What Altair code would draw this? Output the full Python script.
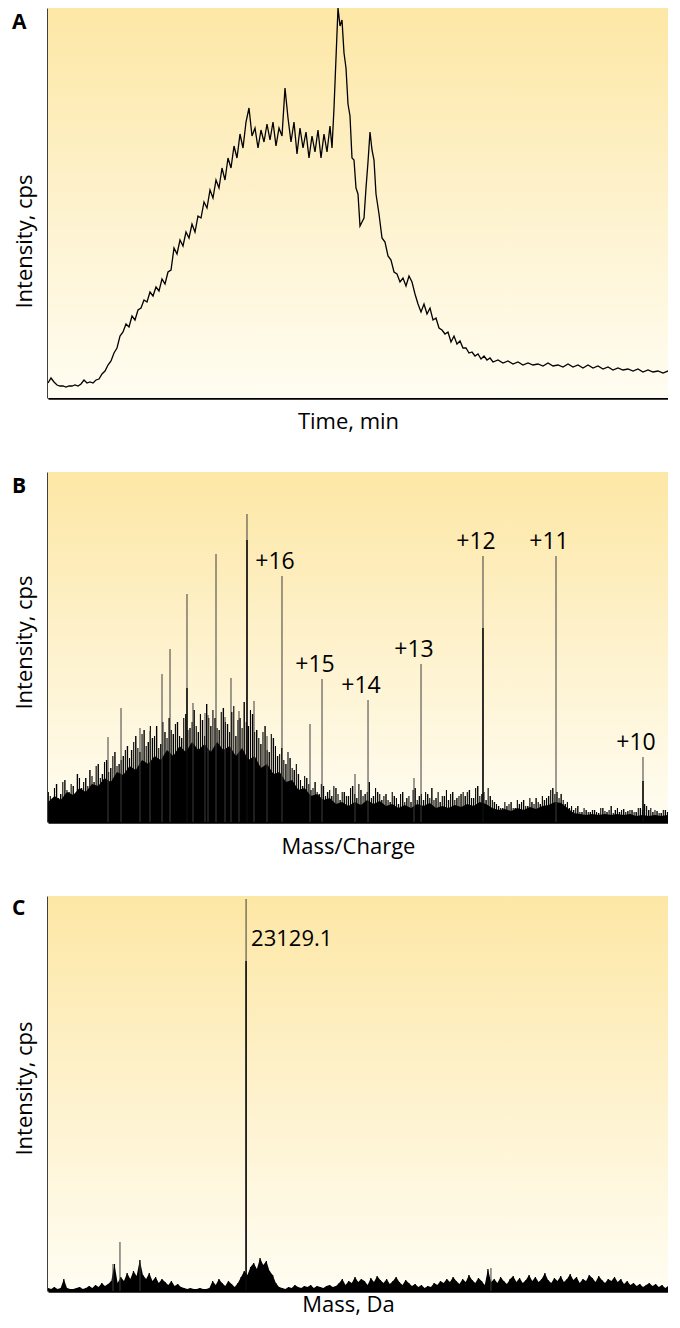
import altair as alt
import pandas as pd

# ---------------- Panel A : chromatogram ----------------
a_scan = (list(range(0, 103, 3)) + list(range(105, 283, 3)) + list(range(284, 329, 2))
          + list(range(331, 446, 3)) + list(range(450, 631, 5)) + [633])
a_intensity = [
    15, 20, 16, 13, 12, 12, 11, 12, 12, 13, 12, 14, 18, 15, 16, 15, 18, 19, 24, 27,
    33, 37, 45, 50, 62, 66, 74, 71, 82, 78, 88, 90, 98, 96, 106,
    102, 111, 107, 119, 114, 126, 128, 150, 144, 158,
    152, 166, 160, 174, 166, 182, 180, 196, 190, 208,
    200, 218, 210, 230, 218, 240, 230, 252, 240, 264,
    250, 276, 290, 262, 270, 250, 268, 256, 274, 258,
    276, 252, 270, 262, 310, 280, 256, 276, 244, 270,
    250, 266, 240, 262, 246, 268, 240, 264, 246, 272,
    250, 290, 340, 390, 372, 378, 345, 330, 294, 282,
    240, 238, 210, 204, 172, 176, 180, 210, 236, 266,
    248, 238, 204,
    184, 160, 156, 142, 138, 126, 124, 116, 120, 112,
    122, 116, 104, 94, 86, 94, 84, 90, 78, 80,
    70, 68, 64, 66, 56, 62, 54, 57, 50, 50,
    45, 46, 42, 44, 39, 42, 38, 40, 36,
    38, 35, 37, 34, 36, 33, 35, 33, 34, 32,
    35, 32, 33, 31, 34, 31, 33, 30, 33, 30,
    32, 29, 31, 28, 30, 28, 29, 27, 29, 26,
    28, 26, 27, 25, 27, 26, 28,
    26,
]

# ---------------- Panel B : m/z spectrum ----------------
b_body_start, b_body_step = 886, 15
b_body = [
    20, 26, 22, 30, 27, 34, 30, 38, 36, 44, 40, 50, 47, 56, 52, 62, 58, 66, 62, 72,
    66, 76, 70, 80, 72, 78, 70, 80, 72, 76, 66, 74, 62, 66, 54, 58, 48, 50, 40, 42,
    32, 34, 26, 28, 22, 24, 18, 20, 16, 20, 17, 22, 18, 21, 16, 18, 14, 17, 14, 18,
    16, 19, 14, 16, 14, 17, 15, 18, 16, 20, 18, 14, 12, 13, 11, 14, 12, 15, 13, 16,
    17, 20, 19, 14, 9, 8, 7, 8, 7, 8, 7, 8, 7, 8, 6, 7, 6, 7, 6, 7, 6,
]
b_needle1_start, b_needle_step = 886, 10
b_needle1 = [
    30, 22, 38, 28, 42, 30, 36, 48, 34, 44,
    52, 40, 58, 48, 62, 54, 70, 58, 66, 76,
    72, 86, 70, 92, 80, 84, 96, 78, 90, 104,
    88, 100, 84, 108, 94, 112, 90, 102, 118, 96,
    104, 92, 114, 98, 110, 86, 104, 120, 96, 108,
    92, 78, 96, 70, 84, 66, 74, 58, 64, 52,
    48, 36, 44, 32, 40, 28, 36, 30, 26, 34,
    22, 30, 26, 36, 24, 32, 28, 40, 26, 30,
    22, 28, 20, 26, 18, 30, 24, 20, 34, 26,
    22, 28, 34, 24, 20, 26, 22, 30, 24, 28,
    26, 32, 24, 36, 28, 22, 26, 20, 16, 14,
    16, 20, 14, 18, 22, 16, 20, 24, 18, 22,
    26, 34, 30, 28, 18, 14, 12, 16, 10, 12,
    10, 12, 9, 14, 10, 16, 12, 10, 13, 11,
    12, 10, 14, 18, 12, 10, 11, 9, 12, 10, 11, 9,
]
b_needle2_start = 891
b_needle2 = [
    26, 34, 24, 40, 32, 38, 28, 44, 40, 36,
    46, 56, 44, 60, 50, 66, 56, 62, 72, 64,
    80, 74, 88, 76, 96, 86, 74, 100, 84, 92,
    98, 86, 104, 92, 100, 96, 108, 86, 104, 112,
    94, 110, 100, 90, 116, 102, 94, 100, 112, 90,
    84, 90, 72, 88, 76, 68, 62, 70, 54, 58,
    42, 46, 38, 34, 30, 38, 26, 32, 36, 28,
    30, 26, 34, 28, 38, 26, 30, 24, 34, 28,
    26, 22, 30, 24, 28, 20, 26, 32, 22, 28,
    30, 24, 22, 30, 26, 32, 28, 22, 26, 30,
    30, 24, 34, 26, 30, 34, 22, 18, 14, 20,
    18, 14, 22, 20, 16, 24, 18, 20, 26, 24,
    32, 28, 24, 22, 20, 16, 14, 10, 14, 10,
    12, 10, 14, 11, 12, 9, 14, 12, 10, 12,
    10, 14, 12, 16, 14, 12, 9, 12, 10, 9, 11,
]
b_peak_mz = [1029.4, 1060.6, 1106.1, 1130.1, 1158.9, 1178.1, 1218.8, 1233.2, 1262.0,
             1269.2, 1288.4, 1310.0, 1324.3, 1343.5, 1362.7, 1379.5, 1410.7, 1446.6,
             1513.8, 1542.6, 1621.7, 1652.9, 1763.2, 1780.0, 1928.6, 2103.7, 2312.3]
b_peak_int = [85, 114, 94, 91, 148, 173, 228, 119, 109,
              107, 268, 105, 144, 111, 308, 121, 86, 246,
              98, 143, 48, 122, 44, 158, 266, 266, 65]
b_sub_mz = [1218.8, 1362.7, 1928.6, 2312.3]
b_sub_int = [134, 282, 194, 41]
b_label_mz = [1446.6, 1542.6, 1652.9, 1780.0, 1928.6, 2103.7, 2312.3]
b_label_int = [246, 143, 122, 158, 266, 266, 65]
b_labels = ["+16", "+15", "+14", "+13", "+12", "+11", "+10"]

# ---------------- Panel C : deconvoluted mass ----------------
c_mass_start, c_mass_step = 20000, 50
c_noise = [
    3, 2, 4, 2, 3, 12, 3, 2, 2, 3, 4, 2, 3, 5, 3, 6, 4, 8, 5, 7,
    10, 27, 8, 14, 10, 18, 12, 20, 15, 31, 16, 12, 18, 10, 14, 8, 12, 9, 6, 10,
    5, 7, 4, 3, 2, 3, 2, 2, 3, 2, 2, 3, 10, 6, 12, 8, 5, 10, 7, 4,
    8, 14, 20, 16, 24, 28, 22, 33, 26, 30, 20, 16, 8, 4, 3, 2, 4, 3, 6, 4,
    3, 5, 4, 6, 3, 5, 4, 3, 5, 6, 4, 5, 8, 12, 6, 10, 8, 14, 9, 12,
    10, 6, 13, 9, 15, 11, 8, 12, 7, 10, 14, 9, 6, 11, 8, 5, 7, 4, 6, 3,
    5, 4, 8, 6, 10, 8, 12, 9, 14, 10, 7, 12, 9, 16, 11, 8, 13, 10, 6, 22,
    9, 12, 8, 14, 10, 7, 12, 15, 9, 13, 8, 11, 16, 10, 14, 9, 12, 18, 11, 8,
    13, 10, 15, 9, 12, 17, 11, 14, 8, 12, 10, 16, 13, 9, 15, 11, 8, 12, 10, 14,
    9, 12, 7, 10, 6, 8, 5, 7, 4, 6, 8, 5, 7, 4, 6, 3, 5, 4, 6, 10, 5,
]
c_peak_mass = [21027, 21137, 21453, 23129.1, 26998]
c_peak_int = [27, 49, 31, 392, 23]
c_sub_mass = [23129.1]
c_sub_int = [330]
c_label = "23129.1"

# ---------------- layout / style ----------------
W = 620
HA, HB, HC = 390, 350, 395
FONT = "Open Sans"

grad = alt.LinearGradient(
    gradient="linear",
    stops=[alt.GradientStop(color="#FDE7A5", offset=0),
           alt.GradientStop(color="#FEF2CD", offset=0.5),
           alt.GradientStop(color="#FFFDF2", offset=1)],
    x1=0, x2=0, y1=0, y2=1,
)


def background(h):
    return alt.Chart(pd.DataFrame({"d": [0]})).mark_rect(color=grad).encode(
        x=alt.value(0), x2=alt.value(W), y=alt.value(0), y2=alt.value(h))


def letter(t, ybase):
    return alt.Chart(pd.DataFrame({"d": [0]})).mark_text(
        text=t, font=FONT, fontSize=21, fontWeight="bold", align="left",
        baseline="alphabetic", color="black").encode(x=alt.value(-36), y=alt.value(ybase))


def xenc(field, dom, title, ty):
    return alt.X(f"{field}:Q", scale=alt.Scale(domain=dom, nice=False, zero=False),
                 axis=alt.Axis(title=title, titleX=300, titleY=ty, titleAlign="center",
                               titleBaseline="alphabetic"))


def yenc(h, ty):
    return alt.Y("intensity:Q", scale=alt.Scale(domain=[0, h], nice=False),
                 axis=alt.Axis(title="Intensity, cps", titleX=-24, titleY=ty, titleAngle=270,
                               titleAlign="center", titleBaseline="middle"))


def spikes(df, X, Y, color, sw):
    return alt.Chart(df).mark_rule(color=color, strokeWidth=sw, clip=True).encode(
        x=X, y=Y, y2=alt.datum(0))


# Panel A
dfa = pd.DataFrame({"scan": a_scan, "intensity": a_intensity})
XA = xenc("scan", [0, W], "Time, min", 30)
YA = yenc(HA, 233)
panel_a = alt.layer(
    background(HA),
    alt.Chart(dfa).mark_line(color="black", strokeWidth=1.3, clip=True).encode(x=XA, y=YA),
    letter("A", 21),
).properties(width=W, height=HA)

# Panel B
MZ_PER_PX = 2.398
B_DOM = [885.5, 885.5 + W * MZ_PER_PX]
XB = xenc("mz", B_DOM, "Mass/Charge", 31)
YB = yenc(HB, 170)
dfb_body = pd.DataFrame({"mz": [b_body_start + b_body_step * i for i in range(len(b_body))],
                         "intensity": b_body})
dfb_n1 = pd.DataFrame({"mz": [b_needle1_start + b_needle_step * i for i in range(len(b_needle1))],
                       "intensity": b_needle1})
dfb_n2 = pd.DataFrame({"mz": [b_needle2_start + b_needle_step * i for i in range(len(b_needle2))],
                       "intensity": b_needle2})
dfb_peaks = pd.DataFrame({"mz": b_peak_mz, "intensity": b_peak_int})
dfb_sub = pd.DataFrame({"mz": b_sub_mz, "intensity": b_sub_int})
dfb_lab = pd.DataFrame({"mz": b_label_mz, "intensity": b_label_int, "label": b_labels})
panel_b = alt.layer(
    background(HB),
    alt.Chart(dfb_body).mark_area(color="black", clip=True).encode(x=XB, y=YB),
    spikes(dfb_n1, XB, YB, "black", 1.4),
    spikes(dfb_n2, XB, YB, "black", 1.1),
    spikes(dfb_peaks, XB, YB, "#3c3c3c", 1.0),
    spikes(dfb_sub, XB, YB, "black", 1.4),
    alt.Chart(dfb_lab).mark_text(font=FONT, fontSize=23, align="center", baseline="alphabetic",
                                 dx=-7, dy=-7, color="black").encode(x=XB, y=YB, text="label:N"),
    letter("B", 21),
).properties(width=W, height=HB)

# Panel C
DA_PER_PX = 15.798
C_DOM = [20000, 20000 + W * DA_PER_PX]
XC = xenc("mass", C_DOM, "Mass, Da", 20)
YC = yenc(HC, 192)
dfc_noise = pd.DataFrame({"mass": [c_mass_start + c_mass_step * i for i in range(len(c_noise))],
                          "intensity": c_noise})
dfc_peaks = pd.DataFrame({"mass": c_peak_mass, "intensity": c_peak_int})
dfc_sub = pd.DataFrame({"mass": c_sub_mass, "intensity": c_sub_int})
dfc_lab = pd.DataFrame({"mass": [23129.1], "intensity": [392], "label": [c_label]})
panel_c = alt.layer(
    background(HC),
    alt.Chart(dfc_noise).mark_area(color="black", clip=True).encode(x=XC, y=YC),
    spikes(dfc_noise, XC, YC, "black", 1.2),
    spikes(dfc_peaks, XC, YC, "#3c3c3c", 1.0),
    spikes(dfc_sub, XC, YC, "black", 1.4),
    alt.Chart(dfc_lab).mark_text(font=FONT, fontSize=22, align="left", baseline="alphabetic",
                                 dx=5, dy=47, color="black").encode(x=XC, y=YC, text="label:N"),
    letter("C", 19),
).properties(width=W, height=HC)

chart = alt.vconcat(
    panel_a, panel_b, panel_c, spacing=74, bounds="flush",
    padding={"left": 4, "top": 0, "right": 0, "bottom": 4},
).configure_view(
    strokeWidth=0
).configure_axis(
    labels=False, ticks=False, grid=False, domainColor="black", domainWidth=2.5,
    titleFont=FONT, titleFontSize=22, titleFontWeight="normal", titleColor="black",
)

chart.save("out.html", embed_options={"renderer": "svg", "actions": False})
